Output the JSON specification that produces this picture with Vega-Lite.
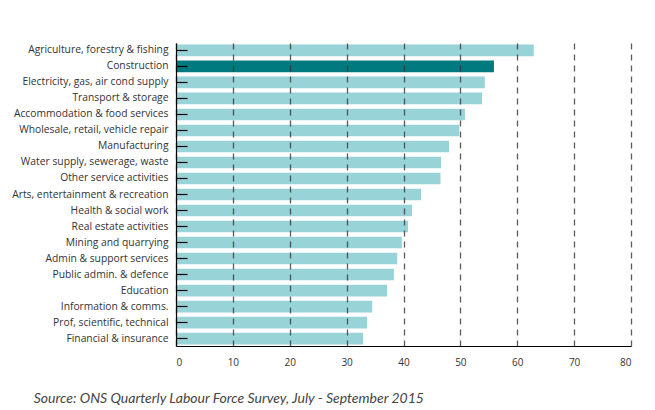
{
  "$schema": "https://vega.github.io/schema/vega-lite/v6.json",
  "autosize": {"type": "none"},
  "width": 455,
  "height": 303,
  "padding": {"left": 176, "top": 43, "right": 24, "bottom": 64},
  "background": "#ffffff",
  "title": {
    "text": "Source: ONS Quarterly Labour Force Survey, July - September 2015",
    "orient": "bottom",
    "anchor": "start",
    "frame": "bounds",
    "offset": 25,
    "dx": 22,
    "font": "Lato",
    "fontStyle": "italic",
    "fontWeight": "normal",
    "fontSize": 14,
    "color": "#444444"
  },
  "data": {
    "values": [
      {"sector": "Agriculture, forestry & fishing", "value": 62.9, "hl": "no"},
      {"sector": "Construction", "value": 55.9, "hl": "yes"},
      {"sector": "Electricity, gas, air cond supply", "value": 54.3, "hl": "no"},
      {"sector": "Transport & storage", "value": 53.8, "hl": "no"},
      {"sector": "Accommodation & food services", "value": 50.8, "hl": "no"},
      {"sector": "Wholesale, retail, vehicle repair", "value": 49.8, "hl": "no"},
      {"sector": "Manufacturing", "value": 48.0, "hl": "no"},
      {"sector": "Water supply, sewerage, waste", "value": 46.6, "hl": "no"},
      {"sector": "Other service activities", "value": 46.5, "hl": "no"},
      {"sector": "Arts, entertainment & recreation", "value": 43.1, "hl": "no"},
      {"sector": "Health & social work", "value": 41.5, "hl": "no"},
      {"sector": "Real estate activities", "value": 40.8, "hl": "no"},
      {"sector": "Mining and quarrying", "value": 39.7, "hl": "no"},
      {"sector": "Admin & support services", "value": 38.9, "hl": "no"},
      {"sector": "Public admin. & defence", "value": 38.3, "hl": "no"},
      {"sector": "Education", "value": 37.1, "hl": "no"},
      {"sector": "Information & comms.", "value": 34.5, "hl": "no"},
      {"sector": "Prof, scientific, technical", "value": 33.6, "hl": "no"},
      {"sector": "Financial & insurance", "value": 32.9, "hl": "no"}
    ]
  },
  "mark": {"type": "bar"},
  "encoding": {
    "y": {
      "field": "sector",
      "type": "nominal",
      "sort": null,
      "scale": {"paddingInner": 0.27, "paddingOuter": 0.1},
      "axis": {
        "title": null,
        "domainColor": "#000000",
        "domainWidth": 1.2,
        "tickColor": "#000000",
        "tickSize": -11,
        "tickWidth": 1.2,
        "labelPadding": 19,
        "labelFont": "Open Sans",
        "labelFontSize": 10.3,
        "labelColor": "#333333",
        "zindex": 1
      }
    },
    "x": {
      "field": "value",
      "type": "quantitative",
      "scale": {"domain": [0, 80], "nice": false},
      "axis": {
        "title": null,
        "values": [0, 10, 20, 30, 40, 50, 60, 70, 80],
        "domainColor": "#000000",
        "domainWidth": 1.2,
        "ticks": false,
        "labelPadding": 11,
        "labelFont": "Open Sans",
        "labelFontSize": 10,
        "labelColor": "#333333",
        "grid": true,
        "gridColor": "#333333",
        "gridOpacity": 0.8,
        "gridWidth": 1.3,
        "gridDash": [6, 5],
        "zindex": 1
      }
    },
    "color": {
      "field": "hl",
      "type": "nominal",
      "scale": {"domain": ["no", "yes"], "range": ["#98d3d8", "#007a7e"]},
      "legend": null
    }
  },
  "config": {
    "view": {"stroke": null}
  }
}
